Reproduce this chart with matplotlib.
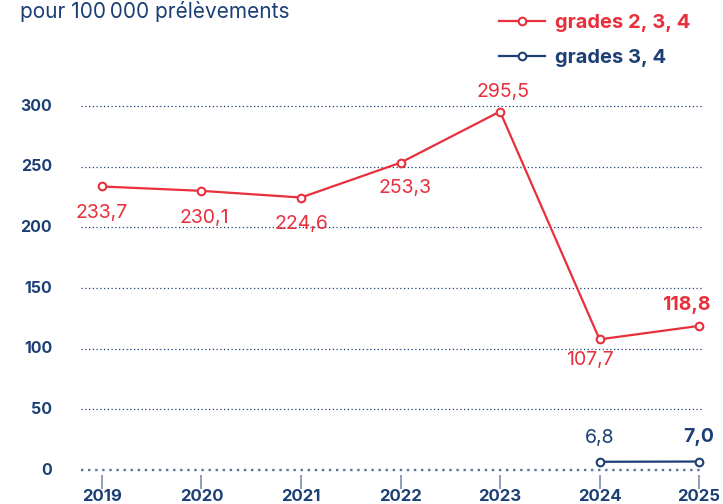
import matplotlib.pyplot as plt
import numpy as np

plt.rcParams['font.family'] = ['Inter', 'DejaVu Sans']

years = [2019, 2020, 2021, 2022, 2023, 2024, 2025]
grades_234 = [233.7, 230.1, 224.6, 253.3, 295.5, 107.7, 118.8]
years_34 = [2024, 2025]
grades_34 = [6.8, 7.0]
yticks = [0, 50, 100, 150, 200, 250, 300]

red = '#e8303c'
navy = '#1c3f75'

fig = plt.figure(figsize=(7.23, 5.04), dpi=100)
ax = fig.add_axes([0, 0, 1, 1])
ax.set_xlim(2017.975, 2025.241)
ax.set_ylim(-28.0, 387.4)
ax.axis('off')

# dotted grid
for v in yticks:
    ax.hlines(v, 2018.79, 2025.02, colors=navy if v else '#5a729a',
              linestyles=(0, (1, 2)), linewidth=1.7 if v == 0 else 0.9, zorder=1)
    ax.text(2018.5, v, str(v), ha='right', va='center', color=navy,
            fontsize=11.5, fontweight='bold')

# x ticks
for yr in years:
    ax.vlines(yr, -4.5, -16, colors='#7d8fae', linewidth=1.2)
    ax.text(yr, -22, str(yr), ha='center', va='center', color=navy,
            fontsize=12, fontweight='bold')

ax.plot(years, grades_234, color=red, lw=1.6, marker='o', ms=5.5,
        mfc='white', mec=red, mew=1.5, zorder=3, label='grades 2, 3, 4')
ax.plot(years_34, grades_34, color=navy, lw=1.6, marker='o', ms=5.5,
        mfc='white', mec=navy, mew=1.5, zorder=3, label='grades 3, 4')

def fmt(v):
    return f'{v:.1f}'.replace('.', ',')

offsets = [(0.0, -22), (0.03, -22), (0.0, -22), (0.05, -21), (0.03, 16), (-0.1, -17), (-0.13, 17)]
for i, (x, v) in enumerate(zip(years, grades_234)):
    dx, dy = offsets[i]
    bold = i == len(years) - 1
    ax.text(x + dx, v + dy, fmt(v), ha='center', va='center', color=red,
            fontsize=14, fontweight='bold' if bold else 'normal')

for i, (x, v) in enumerate(zip(years_34, grades_34)):
    bold = i == len(years_34) - 1
    ax.text(x, v + 20, fmt(v), ha='center', va='center',
            color=navy, fontsize=14, fontweight='bold' if bold else 'normal')

fig.text(0.028, 0.978, 'pour 100\u2009000 prélèvements', ha='left', va='center',
         color=navy, fontsize=15)

leg = ax.legend(loc='upper right', bbox_to_anchor=(0.975, 1.0), frameon=False,
                labelcolor='linecolor', prop={'weight': 'bold', 'size': 14.5},
                handlelength=2.3, handletextpad=0.5, labelspacing=0.85,
                borderaxespad=0.3)

fig.savefig('out.png', dpi=100)
